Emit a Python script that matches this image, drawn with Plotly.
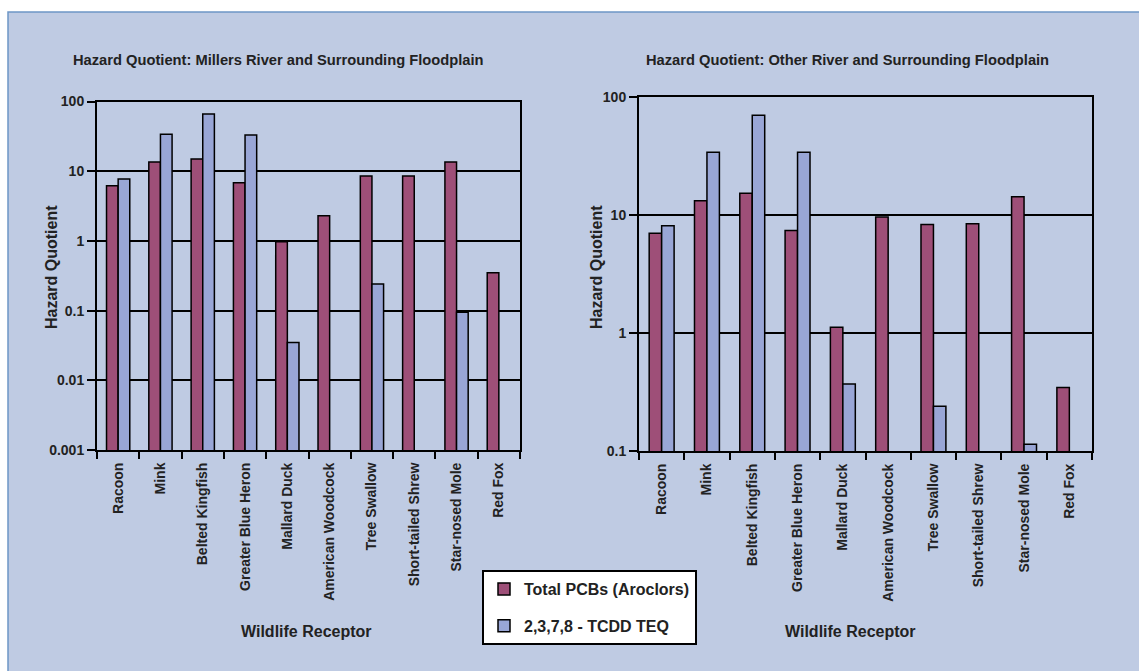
import plotly.graph_objects as go

# Wildlife receptors (x categories)
receptors = ["Racoon", "Mink", "Belted Kingfish", "Greater Blue Heron", "Mallard Duck",
             "American Woodcock", "Tree Swallow", "Short-tailed Shrew", "Star-nosed Mole", "Red Fox"]

# Hazard quotients, Millers River and surrounding floodplain
millers_pcb = [6.2, 13.5, 15.0, 6.8, 0.97, 2.3, 8.5, 8.5, 13.5, 0.35]
millers_teq = [7.7, 34.0, 66.0, 33.0, 0.035, None, 0.24, None, 0.095, None]

# Hazard quotients, other river and surrounding floodplain
other_pcb = [7.0, 13.2, 15.3, 7.4, 1.12, 9.6, 8.3, 8.45, 14.3, 0.345]
other_teq = [8.1, 34.0, 70.0, 34.0, 0.37, None, 0.24, None, 0.114, None]

left_ticks = [0.001, 0.01, 0.1, 1, 10, 100]
left_ticktext = ["0.001", "0.01", "0.1", "1", "10", "100"]
right_ticks = [0.1, 1, 10, 100]
right_ticktext = ["0.1", "1", "10", "100"]

W, H = 1139, 671
PCB_COLOR = "#9E4F78"
TEQ_COLOR = "#99A6D6"
PANEL = "#BFCBE3"
TEXT = "#222222"
FONT = "Liberation Sans, Arial, sans-serif"


def px_x(px):
    return px / W


def px_y(py):
    return 1 - py / H


fig = go.Figure()

bar_line = dict(color="black", width=1.5)
fig.add_trace(go.Bar(x=receptors, y=millers_pcb, name="Total PCBs (Aroclors)",
                     marker=dict(color=PCB_COLOR, line=bar_line),
                     legendgroup="pcb", xaxis="x", yaxis="y"))
fig.add_trace(go.Bar(x=receptors, y=millers_teq, name="2,3,7,8 - TCDD TEQ",
                     marker=dict(color=TEQ_COLOR, line=bar_line),
                     legendgroup="teq", xaxis="x", yaxis="y"))
fig.add_trace(go.Bar(x=receptors, y=other_pcb, name="Total PCBs (Aroclors)",
                     marker=dict(color=PCB_COLOR, line=bar_line), showlegend=False,
                     legendgroup="pcb", xaxis="x2", yaxis="y2"))
fig.add_trace(go.Bar(x=receptors, y=other_teq, name="2,3,7,8 - TCDD TEQ",
                     marker=dict(color=TEQ_COLOR, line=bar_line), showlegend=False,
                     legendgroup="teq", xaxis="x2", yaxis="y2"))

xcommon = dict(type="category", tickson="boundaries", ticks="outside", ticklen=7,
               tickwidth=1.5, tickcolor="black", tickangle=-90, ticklabelstandoff=5,
               tickfont=dict(family=FONT, size=14, color=TEXT, weight="bold"),
               showline=True, linecolor="black", linewidth=2, mirror=True,
               showgrid=False, zeroline=False, automargin=False)
ycommon = dict(type="log", ticks="outside", ticklen=8, tickwidth=1.5, tickcolor="black",
               tickfont=dict(family=FONT, size=14, color=TEXT, weight="bold"),
               showline=True, linecolor="black", linewidth=2, mirror=True,
               showgrid=True, gridcolor="black", gridwidth=1.5, zeroline=False,
               automargin=False)

fig.update_layout(
    width=W, height=H,
    margin=dict(l=0, r=0, t=0, b=0, autoexpand=False),
    paper_bgcolor="white", plot_bgcolor="white",
    barmode="group", bargap=0.45, bargroupgap=0.0,
    xaxis=dict(xcommon, domain=[px_x(97), px_x(520)], anchor="y"),
    yaxis=dict(ycommon, domain=[px_y(450), px_y(101.5)], anchor="x",
               range=[-3, 2], tickvals=left_ticks, ticktext=left_ticktext),
    xaxis2=dict(xcommon, domain=[px_x(639), px_x(1092)], anchor="y2"),
    yaxis2=dict(ycommon, domain=[px_y(451), px_y(97)], anchor="x2",
                range=[-1, 2], tickvals=right_ticks, ticktext=right_ticktext),
    legend=dict(x=px_x(482), y=px_y(570), xanchor="left", yanchor="top",
                bgcolor="white", bordercolor="black", borderwidth=2,
                font=dict(family=FONT, size=16, color=TEXT, weight="bold"),
                traceorder="grouped", tracegroupgap=13, itemwidth=30),
    showlegend=True,
)

# Light-blue panel behind both charts
fig.add_shape(type="rect", xref="paper", yref="paper",
              x0=px_x(8), x1=px_x(1145), y0=px_y(680), y1=px_y(12),
              fillcolor=PANEL, line=dict(color="#6E96C6", width=1.5), layer="below")

# Thin shaded strip along the bottom of the right plot area
fig.add_shape(type="rect", xref="x2 domain", yref="y2",
              x0=0, x1=1, y0=0.1, y1=0.107,
              fillcolor=PANEL, line=dict(width=0), layer="below")

title_font = dict(family=FONT, size=14.7, color=TEXT, weight="bold")
fig.add_annotation(text="Hazard Quotient: Millers River and Surrounding Floodplain",
                   xref="paper", yref="paper", x=px_x(278), y=px_y(60),
                   xanchor="center", yanchor="middle", showarrow=False, font=title_font)
fig.add_annotation(text="Hazard Quotient: Other River and Surrounding Floodplain",
                   xref="paper", yref="paper", x=px_x(848), y=px_y(60),
                   xanchor="center", yanchor="middle", showarrow=False, font=title_font)

axis_title_font = dict(family=FONT, size=16, color=TEXT, weight="bold")
for xc in (51, 596):
    fig.add_annotation(text="Hazard Quotient", xref="paper", yref="paper",
                       x=px_x(xc), y=px_y(267), textangle=-90,
                       xanchor="center", yanchor="middle",
                       showarrow=False, font=axis_title_font)
for xc in (306, 850):
    fig.add_annotation(text="Wildlife Receptor", xref="paper", yref="paper",
                       x=px_x(xc), y=px_y(631), xanchor="center", yanchor="middle",
                       showarrow=False,
                       font=dict(family=FONT, size=16, color=TEXT, weight="bold"))

fig.write_html("out.html")
